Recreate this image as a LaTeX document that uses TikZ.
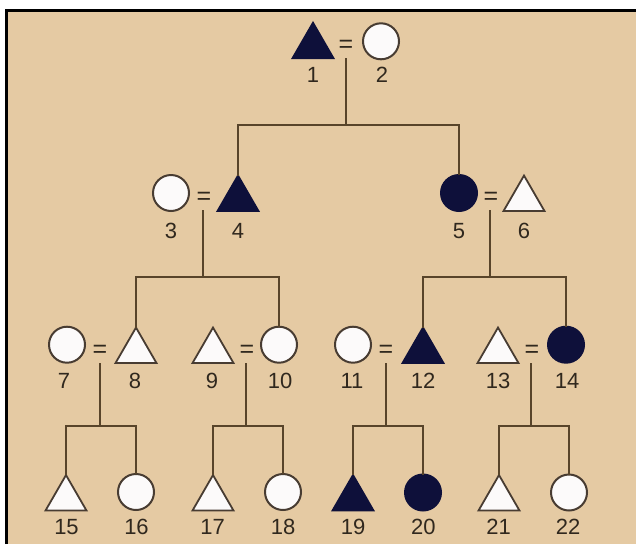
\documentclass[tikz,border=0pt]{standalone}
\usepackage{fontspec}
\setmainfont{Liberation Sans}
\usetikzlibrary{shapes.geometric}
\definecolor{paper}{RGB}{229,202,163}
\definecolor{navy}{RGB}{14,16,58}
\definecolor{edgec}{RGB}{72,60,50}
\definecolor{wirec}{RGB}{88,68,42}
\definecolor{ink}{RGB}{48,40,30}
\definecolor{shapefill}{RGB}{252,250,250}
\begin{document}
\begin{tikzpicture}[x=1pt,y=-1pt,
 fem/.style={circle,minimum size=36pt,inner sep=0pt,outer sep=0pt,draw=edgec,line width=2pt,fill=shapefill},
 mal/.style={regular polygon,regular polygon sides=3,minimum size=47.3pt,inner sep=0pt,outer sep=0pt,draw=edgec,line width=1.8pt,fill=shapefill},
 aff/.style={fill=navy,draw=navy},
 lbl/.style={inner sep=0pt,text=ink,font=\fontsize{22}{26}\selectfont},
 eqs/.style={inner sep=0pt,text=ink,font=\fontsize{25}{28}\selectfont},
 wirest/.style={draw=wirec,line width=2pt}
]
\useasboundingbox (0,0) rectangle (636,544);
\fill[white] (0,0) rectangle (636,544);
\fill[paper] (6.5,10.5) rectangle (636,544);
\draw[black,line width=3pt] (6.5,544) -- (6.5,10.5) -- (636,10.5);

% generation 1
\node[mal,aff] (p1) at (313,46.4) {};
\node[fem] (p2) at (381,41.3) {};
\node[eqs] (e1) at (346,46) {=};
\node[lbl] (l1) at (313,75) {1};
\node[lbl] (l2) at (382,75) {2};

% generation 2
\node[fem] (p3) at (171,193) {};
\node[mal,aff] (p4) at (238,199.2) {};
\node[eqs] (e2) at (204,198) {=};
\node[fem,aff] (p5) at (459,193) {};
\node[mal] (p6) at (524,199.2) {};
\node[eqs] (e3) at (491,198) {=};
\node[lbl] (l3) at (171,230.7) {3};
\node[lbl] (l4) at (238,230.7) {4};
\node[lbl] (l5) at (459,230.7) {5};
\node[lbl] (l6) at (524,230.7) {6};

% generation 3
\node[fem] (p7) at (67,344.7) {};
\node[mal] (p8) at (136,351.2) {};
\node[eqs] (e4) at (100,351) {=};
\node[mal] (p9) at (213,351.2) {};
\node[fem] (p10) at (279,344.7) {};
\node[eqs] (e5) at (247,351) {=};
\node[fem] (p11) at (353,344.7) {};
\node[mal,aff] (p12) at (423,351.2) {};
\node[eqs] (e6) at (386,351) {=};
\node[mal] (p13) at (498,351.2) {};
\node[fem,aff] (p14) at (566,344.7) {};
\node[eqs] (e7) at (532,351) {=};
\node[lbl] (l7) at (64,381) {7};
\node[lbl] (l8) at (135,381) {8};
\node[lbl] (l9) at (212,381) {9};
\node[lbl] (l10) at (280,381) {10};
\node[lbl] (l11) at (352,381) {11};
\node[lbl] (l12) at (423,381) {12};
\node[lbl] (l13) at (498,381) {13};
\node[lbl] (l14) at (567,381) {14};

% generation 4
\node[mal] (p15) at (66,498.7) {};
\node[fem] (p16) at (136,492) {};
\node[mal] (p17) at (213,498.7) {};
\node[fem] (p18) at (283,492) {};
\node[mal,aff] (p19) at (353,498.7) {};
\node[fem,aff] (p20) at (423,492.5) {};
\node[mal] (p21) at (499,498.7) {};
\node[fem] (p22) at (569,492.5) {};
\node[lbl] (l15) at (66.5,527) {15};
\node[lbl] (l16) at (136.5,527) {16};
\node[lbl] (l17) at (212.5,527) {17};
\node[lbl] (l18) at (283,527) {18};
\node[lbl] (l19) at (353,527) {19};
\node[lbl] (l20) at (423.3,527) {20};
\node[lbl] (l21) at (498.7,527) {21};
\node[lbl] (l22) at (568,527) {22};

% descent lines
\coordinate (d1) at (346,58);  \coordinate (j1) at (346,125);
\coordinate (d2) at (203,210); \coordinate (j2) at (203,277);
\coordinate (d3) at (490,210); \coordinate (j3) at (490,277);
\coordinate (d4) at (100,363); \coordinate (j4) at (100,426);
\coordinate (d5) at (246,363); \coordinate (j5) at (246,426);
\coordinate (d6) at (386,363); \coordinate (j6) at (386,426);
\coordinate (d7) at (531,363); \coordinate (j7) at (531,426);

\draw[wirest] (d1) -- (j1);
\draw[wirest] (p4.north) |- (j1) -| (p5.north);
\draw[wirest] (d2) -- (j2);
\draw[wirest] (p8.north) |- (j2) -| (p10.north);
\draw[wirest] (d3) -- (j3);
\draw[wirest] (p12.north) |- (j3) -| (p14.north);
\draw[wirest] (d4) -- (j4);
\draw[wirest] (p15.north) |- (j4) -| (p16.north);
\draw[wirest] (d5) -- (j5);
\draw[wirest] (p17.north) |- (j5) -| (p18.north);
\draw[wirest] (d6) -- (j6);
\draw[wirest] (p19.north) |- (j6) -| (p20.north);
\draw[wirest] (d7) -- (j7);
\draw[wirest] (p21.north) |- (j7) -| (p22.north);
\end{tikzpicture}
\end{document}
